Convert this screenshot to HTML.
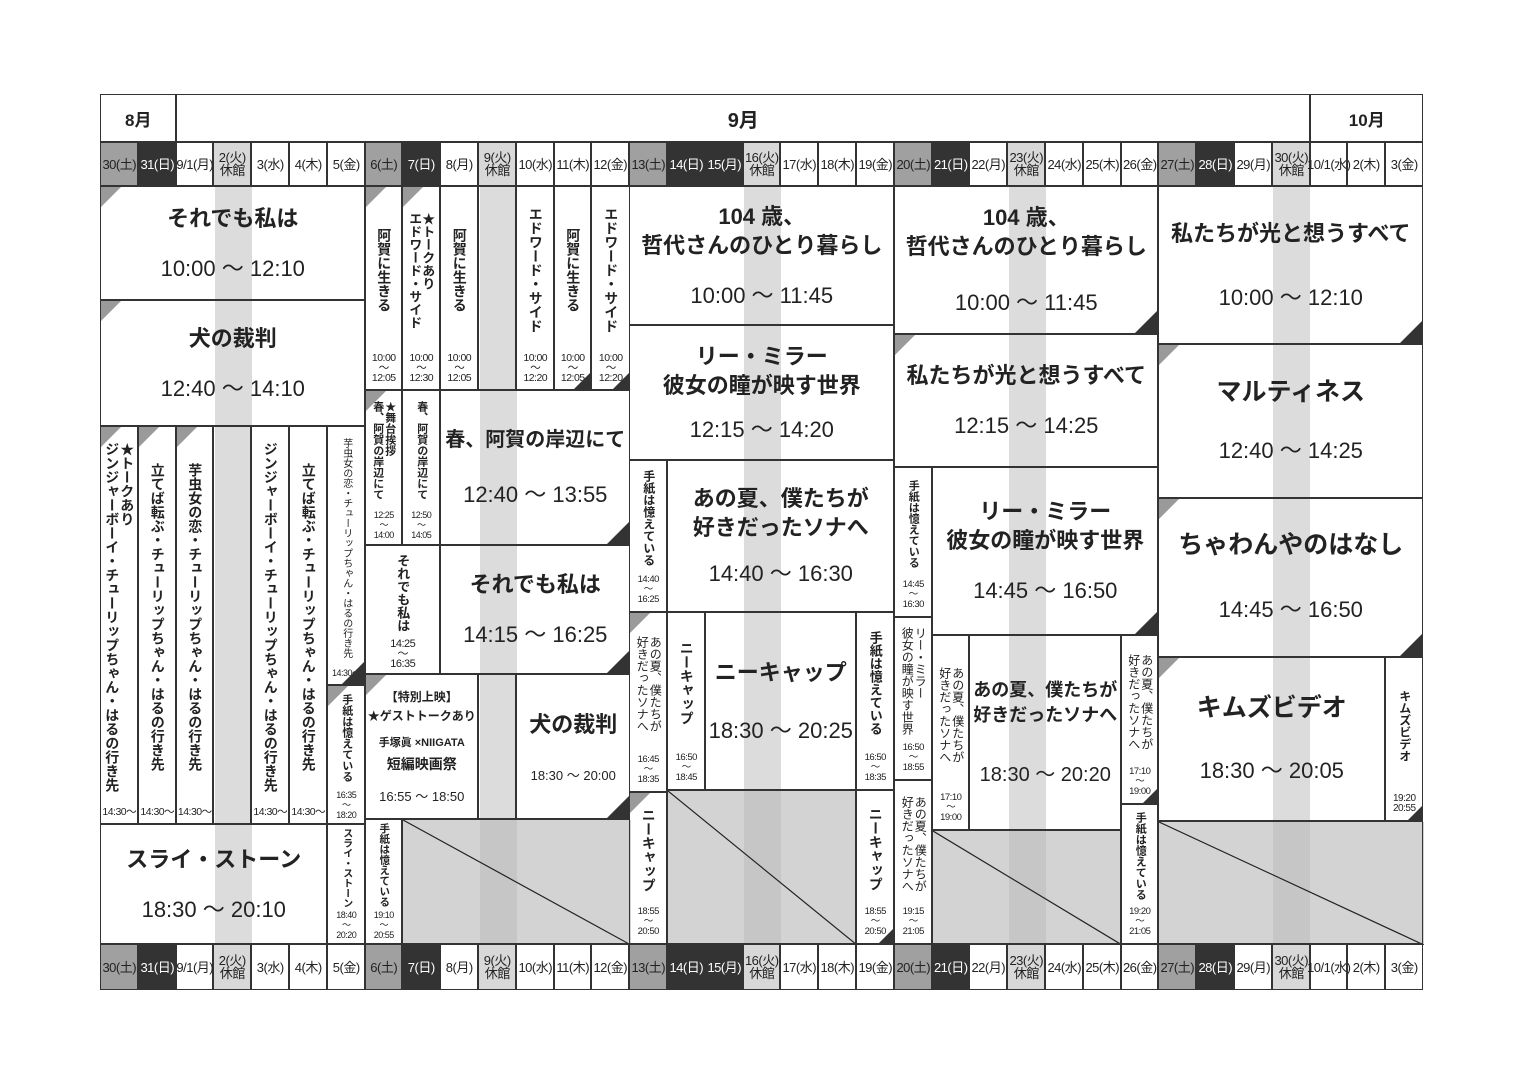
<!DOCTYPE html>
<html><head><meta charset="utf-8">
<style>
body{margin:0;width:1518px;height:1075px;background:#fff;position:relative;overflow:hidden;font-family:"Liberation Sans","Noto Sans CJK JP",sans-serif;color:#222}
.b{position:absolute;border:1.5px solid #333;box-sizing:border-box;margin-left:-0.75px;margin-top:-0.75px}
.m{display:flex;align-items:center;justify-content:center;font-size:19px;font-weight:bold}
.d{display:flex;align-items:center;justify-content:center;font-size:13px;line-height:13px;text-align:center;letter-spacing:-0.5px}
.sat{background:#a0a0a0}
.sun{background:#333;color:#fff}
.cl{background:#d8d8d8}
.big{display:flex;flex-direction:column;align-items:center;justify-content:center;text-align:center;white-space:nowrap}
.big .t{font-size:22px;font-weight:bold;line-height:29px}
.big .h{font-size:22px;margin-top:18px}
.v{display:flex;flex-direction:column;align-items:center}
.v .t{flex:1;display:flex;align-items:center;justify-content:center;writing-mode:vertical-rl;font-size:14px;font-weight:bold;line-height:15px;white-space:nowrap}
.v .h{font-size:10.5px;line-height:10px;text-align:center;padding-bottom:6px;letter-spacing:-0.5px}
.v .s{font-size:12px;line-height:13px;font-weight:normal}
.st{position:absolute;top:187px;height:758px;width:37px;background:#dcdcdc}
.hat{position:absolute;background:#d3d3d3}
.hs{position:absolute;top:0;bottom:0;width:37px;background:#c6c6c6}
.hat svg{position:absolute;left:0;top:0;width:100%;height:100%}
.tl{position:absolute;left:0;top:0;width:0;height:0;border-top:20px solid #9a9a9a;border-right:20px solid transparent}
.br{position:absolute;right:0;bottom:0;width:0;height:0;border-bottom:22px solid #333;border-left:22px solid transparent}
</style></head><body>

<!-- stripes -->
<div class="st" style="left:215px"></div>
<div class="st" style="left:480px"></div>
<div class="st" style="left:744px"></div>
<div class="st" style="left:1009px"></div>
<div class="st" style="left:1273px"></div>

<!-- hatch areas -->
<div class="hat" style="left:403px;top:820px;width:228px;height:125px"><div class="hs" style="left:77px"></div><svg viewBox="0 0 100 100" preserveAspectRatio="none"><line x1="0" y1="0" x2="100" y2="100" stroke="#222" stroke-width="1.2" vector-effect="non-scaling-stroke"/></svg></div>
<div class="hat" style="left:668px;top:791px;width:189px;height:154px"><div class="hs" style="left:76px"></div><svg viewBox="0 0 100 100" preserveAspectRatio="none"><line x1="0" y1="0" x2="100" y2="100" stroke="#222" stroke-width="1.2" vector-effect="non-scaling-stroke"/></svg></div>
<div class="hat" style="left:933px;top:831px;width:189px;height:114px"><div class="hs" style="left:76px"></div><svg viewBox="0 0 100 100" preserveAspectRatio="none"><line x1="0" y1="0" x2="100" y2="100" stroke="#222" stroke-width="1.2" vector-effect="non-scaling-stroke"/></svg></div>
<div class="hat" style="left:1159px;top:822px;width:265px;height:123px"><div class="hs" style="left:114px"></div><svg viewBox="0 0 100 100" preserveAspectRatio="none"><line x1="0" y1="0" x2="100" y2="100" stroke="#222" stroke-width="1.2" vector-effect="non-scaling-stroke"/></svg></div>

<!-- month row -->
<div class="b m" style="left:101px;top:95px;width:76px;height:48px;font-size:17px">8月</div>
<div class="b m" style="left:177px;top:95px;width:1134px;height:48px;font-size:20px">9月</div>
<div class="b m" style="left:1311px;top:95px;width:113px;height:48px;font-size:17px">10月</div>

<!-- top date row -->
<div class="b d sat" style="left:101px;top:143px;width:38px;height:44px">30(土)</div>
<div class="b d sun" style="left:139px;top:143px;width:38px;height:44px">31(日)</div>
<div class="b d" style="left:177px;top:143px;width:37px;height:44px">9/1(月)</div>
<div class="b d cl" style="left:214px;top:143px;width:38px;height:44px">2(火)<br>休館</div>
<div class="b d" style="left:252px;top:143px;width:38px;height:44px">3(水)</div>
<div class="b d" style="left:290px;top:143px;width:38px;height:44px">4(木)</div>
<div class="b d" style="left:328px;top:143px;width:38px;height:44px">5(金)</div>
<div class="b d sat" style="left:366px;top:143px;width:37px;height:44px">6(土)</div>
<div class="b d sun" style="left:403px;top:143px;width:38px;height:44px">7(日)</div>
<div class="b d" style="left:441px;top:143px;width:38px;height:44px">8(月)</div>
<div class="b d cl" style="left:479px;top:143px;width:38px;height:44px">9(火)<br>休館</div>
<div class="b d" style="left:517px;top:143px;width:38px;height:44px">10(水)</div>
<div class="b d" style="left:555px;top:143px;width:37px;height:44px">11(木)</div>
<div class="b d" style="left:592px;top:143px;width:38px;height:44px">12(金)</div>
<div class="b d sat" style="left:630px;top:143px;width:38px;height:44px">13(土)</div>
<div class="b d sun" style="left:668px;top:143px;width:38px;height:44px">14(日)</div>
<div class="b d sun" style="left:706px;top:143px;width:38px;height:44px">15(月)</div>
<div class="b d cl" style="left:744px;top:143px;width:37px;height:44px">16(火)<br>休館</div>
<div class="b d" style="left:781px;top:143px;width:38px;height:44px">17(水)</div>
<div class="b d" style="left:819px;top:143px;width:38px;height:44px">18(木)</div>
<div class="b d" style="left:857px;top:143px;width:38px;height:44px">19(金)</div>
<div class="b d sat" style="left:895px;top:143px;width:38px;height:44px">20(土)</div>
<div class="b d sun" style="left:933px;top:143px;width:37px;height:44px">21(日)</div>
<div class="b d" style="left:970px;top:143px;width:38px;height:44px">22(月)</div>
<div class="b d cl" style="left:1008px;top:143px;width:38px;height:44px">23(火)<br>休館</div>
<div class="b d" style="left:1046px;top:143px;width:38px;height:44px">24(水)</div>
<div class="b d" style="left:1084px;top:143px;width:38px;height:44px">25(木)</div>
<div class="b d" style="left:1122px;top:143px;width:37px;height:44px">26(金)</div>
<div class="b d sat" style="left:1159px;top:143px;width:38px;height:44px">27(土)</div>
<div class="b d sun" style="left:1197px;top:143px;width:38px;height:44px">28(日)</div>
<div class="b d" style="left:1235px;top:143px;width:38px;height:44px">29(月)</div>
<div class="b d cl" style="left:1273px;top:143px;width:38px;height:44px">30(火)<br>休館</div>
<div class="b d" style="left:1311px;top:143px;width:37px;height:44px">10/1(水)</div>
<div class="b d" style="left:1348px;top:143px;width:38px;height:44px">2(木)</div>
<div class="b d" style="left:1386px;top:143px;width:38px;height:44px">3(金)</div>

<!-- bottom date row -->
<div class="b d sat" style="left:101px;top:945px;width:38px;height:46px">30(土)</div>
<div class="b d sun" style="left:139px;top:945px;width:38px;height:46px">31(日)</div>
<div class="b d" style="left:177px;top:945px;width:37px;height:46px">9/1(月)</div>
<div class="b d cl" style="left:214px;top:945px;width:38px;height:46px">2(火)<br>休館</div>
<div class="b d" style="left:252px;top:945px;width:38px;height:46px">3(水)</div>
<div class="b d" style="left:290px;top:945px;width:38px;height:46px">4(木)</div>
<div class="b d" style="left:328px;top:945px;width:38px;height:46px">5(金)</div>
<div class="b d sat" style="left:366px;top:945px;width:37px;height:46px">6(土)</div>
<div class="b d sun" style="left:403px;top:945px;width:38px;height:46px">7(日)</div>
<div class="b d" style="left:441px;top:945px;width:38px;height:46px">8(月)</div>
<div class="b d cl" style="left:479px;top:945px;width:38px;height:46px">9(火)<br>休館</div>
<div class="b d" style="left:517px;top:945px;width:38px;height:46px">10(水)</div>
<div class="b d" style="left:555px;top:945px;width:37px;height:46px">11(木)</div>
<div class="b d" style="left:592px;top:945px;width:38px;height:46px">12(金)</div>
<div class="b d sat" style="left:630px;top:945px;width:38px;height:46px">13(土)</div>
<div class="b d sun" style="left:668px;top:945px;width:38px;height:46px">14(日)</div>
<div class="b d sun" style="left:706px;top:945px;width:38px;height:46px">15(月)</div>
<div class="b d cl" style="left:744px;top:945px;width:37px;height:46px">16(火)<br>休館</div>
<div class="b d" style="left:781px;top:945px;width:38px;height:46px">17(水)</div>
<div class="b d" style="left:819px;top:945px;width:38px;height:46px">18(木)</div>
<div class="b d" style="left:857px;top:945px;width:38px;height:46px">19(金)</div>
<div class="b d sat" style="left:895px;top:945px;width:38px;height:46px">20(土)</div>
<div class="b d sun" style="left:933px;top:945px;width:37px;height:46px">21(日)</div>
<div class="b d" style="left:970px;top:945px;width:38px;height:46px">22(月)</div>
<div class="b d cl" style="left:1008px;top:945px;width:38px;height:46px">23(火)<br>休館</div>
<div class="b d" style="left:1046px;top:945px;width:38px;height:46px">24(水)</div>
<div class="b d" style="left:1084px;top:945px;width:38px;height:46px">25(木)</div>
<div class="b d" style="left:1122px;top:945px;width:37px;height:46px">26(金)</div>
<div class="b d sat" style="left:1159px;top:945px;width:38px;height:46px">27(土)</div>
<div class="b d sun" style="left:1197px;top:945px;width:38px;height:46px">28(日)</div>
<div class="b d" style="left:1235px;top:945px;width:38px;height:46px">29(月)</div>
<div class="b d cl" style="left:1273px;top:945px;width:38px;height:46px">30(火)<br>休館</div>
<div class="b d" style="left:1311px;top:945px;width:37px;height:46px">10/1(水)</div>
<div class="b d" style="left:1348px;top:945px;width:38px;height:46px">2(木)</div>
<div class="b d" style="left:1386px;top:945px;width:38px;height:46px">3(金)</div>

<!-- WEEK 1 -->
<div class="b big" style="left:101px;top:187px;width:265px;height:114px"><i class="tl"></i><div class="t">それでも私は</div><div class="h">10:00 ～ 12:10</div></div>
<div class="b big" style="left:101px;top:301px;width:265px;height:126px"><i class="tl"></i><div class="t">犬の裁判</div><div class="h">12:40 ～ 14:10</div></div>
<div class="b v" style="left:101px;top:427px;width:38px;height:398px"><i class="tl"></i><div class="t">★トークあり<br>ジンジャーボーイ・チューリップちゃん・はるの行き先</div><div class="h">14:30～</div></div>
<div class="b v" style="left:139px;top:427px;width:38px;height:398px"><i class="tl"></i><div class="t">立てば転ぶ・チューリップちゃん・はるの行き先</div><div class="h">14:30～</div></div>
<div class="b v" style="left:177px;top:427px;width:37px;height:398px"><i class="tl"></i><div class="t">芋虫女の恋・チューリップちゃん・はるの行き先</div><div class="h">14:30～</div></div>
<div class="b" style="left:214px;top:427px;width:38px;height:398px"></div>
<div class="b v" style="left:252px;top:427px;width:38px;height:398px"><div class="t">ジンジャーボーイ・チューリップちゃん・はるの行き先</div><div class="h">14:30～</div></div>
<div class="b v" style="left:290px;top:427px;width:38px;height:398px"><div class="t">立てば転ぶ・チューリップちゃん・はるの行き先</div><div class="h">14:30～</div></div>
<div class="b v" style="left:328px;top:427px;width:38px;height:259px"><div class="t" style="font-size:10px;line-height:11px;font-weight:normal">芋虫女の恋・チューリップちゃん・はるの行き先</div><div class="h" style="font-size:9px">14:30～</div><i class="br"></i></div>
<div class="b v" style="left:328px;top:686px;width:38px;height:139px"><i class="tl"></i><div class="t" style="font-size:11px">手紙は憶えている</div><div class="h" style="font-size:9px;padding-bottom:3px">16:35<br>～<br>18:20</div></div>
<div class="b big" style="left:101px;top:825px;width:227px;height:120px"><div class="t">スライ・ストーン</div><div class="h">18:30 ～ 20:10</div></div>
<div class="b v" style="left:328px;top:825px;width:38px;height:120px"><div class="t" style="font-size:10px">スライ・ストーン</div><div class="h" style="font-size:9px;padding-bottom:3px">18:40<br>～<br>20:20</div></div>

<!-- WEEK 2 -->
<div class="b v" style="left:366px;top:187px;width:37px;height:204px"><i class="tl"></i><div class="t">阿賀に生きる</div><div class="h">10:00<br>～<br>12:05</div></div>
<div class="b v" style="left:403px;top:187px;width:38px;height:204px"><i class="tl"></i><div class="t" style="font-size:13px;line-height:13px">★トークあり<br>エドワード・サイド</div><div class="h">10:00<br>～<br>12:30</div></div>
<div class="b v" style="left:441px;top:187px;width:38px;height:204px"><div class="t">阿賀に生きる</div><div class="h">10:00<br>～<br>12:05</div></div>
<div class="b" style="left:479px;top:187px;width:38px;height:204px"></div>
<div class="b v" style="left:517px;top:187px;width:38px;height:204px"><div class="t">エドワード・サイド</div><div class="h">10:00<br>～<br>12:20</div></div>
<div class="b v" style="left:555px;top:187px;width:37px;height:204px"><div class="t">阿賀に生きる</div><div class="h">10:00<br>～<br>12:05</div><i class="br" style="border-bottom-width:16px;border-left-width:16px"></i></div>
<div class="b v" style="left:592px;top:187px;width:39px;height:204px"><div class="t">エドワード・サイド</div><div class="h">10:00<br>～<br>12:20</div><i class="br" style="border-bottom-width:16px;border-left-width:16px"></i></div>

<div class="b v" style="left:366px;top:391px;width:37px;height:155px"><i class="tl"></i><div class="t" style="font-size:11px;line-height:12px">★舞台挨拶<br>春、阿賀の岸辺にて</div><div class="h" style="font-size:9px;padding-bottom:4px">12:25<br>～<br>14:00</div></div>
<div class="b v" style="left:403px;top:391px;width:38px;height:155px"><div class="t" style="font-size:11px">春、阿賀の岸辺にて</div><div class="h" style="font-size:9px;padding-bottom:4px">12:50<br>～<br>14:05</div></div>
<div class="b big" style="left:441px;top:391px;width:190px;height:155px"><div class="t" style="font-size:20px">春、阿賀の岸辺にて</div><div class="h" style="margin-top:22px">12:40 ～ 13:55</div><i class="br"></i></div>

<div class="b v" style="left:366px;top:546px;width:75px;height:129px"><div class="t" style="font-size:13px">それでも私は</div><div class="h" style="font-size:11px;line-height:10px;padding-bottom:4px">14:25<br>～<br>16:35</div></div>
<div class="b big" style="left:441px;top:546px;width:190px;height:129px"><div class="t">それでも私は</div><div class="h">14:15 ～ 16:25</div><i class="br"></i></div>

<div class="b big" style="left:366px;top:675px;width:113px;height:145px"><i class="tl"></i><div style="font-size:12px;font-weight:bold;line-height:19px">【特別上映】<br>★ゲストトークあり</div><div style="font-size:11px;font-weight:bold;margin-top:8px">手塚眞 ×NIIGATA</div><div style="font-size:14px;font-weight:bold;margin-top:4px">短編映画祭</div><div style="font-size:13px;margin-top:12px">16:55 ～ 18:50</div></div>
<div class="b" style="left:479px;top:675px;width:38px;height:145px"></div>
<div class="b big" style="left:517px;top:675px;width:114px;height:145px"><div class="t">犬の裁判</div><div class="h" style="font-size:13px;margin-top:26px">18:30 ～ 20:00</div><i class="br"></i></div>

<div class="b v" style="left:366px;top:820px;width:37px;height:125px"><div class="t" style="font-size:10.5px">手紙は憶えている</div><div class="h" style="font-size:9px;padding-bottom:3px">19:10<br>～<br>20:55</div></div>
<div class="b" style="left:403px;top:820px;width:228px;height:125px"></div>

<!-- WEEK 3 -->
<div class="b big" style="left:630px;top:187px;width:265px;height:139px"><div class="t">104 歳、<br>哲代さんのひとり暮らし</div><div class="h">10:00 ～ 11:45</div></div>
<div class="b big" style="left:630px;top:326px;width:265px;height:135px"><div class="t">リー・ミラー<br>彼女の瞳が映す世界</div><div class="h" style="margin-top:12px">12:15 ～ 14:20</div></div>
<div class="b v" style="left:630px;top:461px;width:38px;height:152px"><div class="t" style="font-size:12px">手紙は憶えている</div><div class="h" style="font-size:9.5px">14:40<br>～<br>16:25</div></div>
<div class="b big" style="left:668px;top:461px;width:227px;height:152px"><div class="t">あの夏、僕たちが<br>好きだったソナへ</div><div class="h" style="margin-top:14px">14:40 ～ 16:30</div></div>
<div class="b v" style="left:630px;top:613px;width:38px;height:180px"><i class="tl"></i><div class="t s">あの夏、僕たちが<br>好きだったソナへ</div><div class="h" style="font-size:9.5px">16:45<br>～<br>18:35</div></div>
<div class="b v" style="left:668px;top:613px;width:38px;height:178px"><div class="t">ニーキャップ</div><div class="h" style="font-size:9.5px">16:50<br>～<br>18:45</div></div>
<div class="b big" style="left:706px;top:613px;width:151px;height:178px"><div class="t">ニーキャップ</div><div class="h" style="margin-top:26px">18:30 ～ 20:25</div></div>
<div class="b v" style="left:857px;top:613px;width:38px;height:178px"><div class="t" style="font-size:13px">手紙は憶えている</div><div class="h" style="font-size:9.5px">16:50<br>～<br>18:35</div></div>
<div class="b v" style="left:630px;top:793px;width:38px;height:152px"><i class="tl"></i><div class="t">ニーキャップ</div><div class="h" style="font-size:9.5px">18:55<br>～<br>20:50</div></div>
<div class="b" style="left:668px;top:791px;width:189px;height:154px"></div>
<div class="b v" style="left:857px;top:791px;width:38px;height:154px"><div class="t">ニーキャップ</div><div class="h" style="font-size:9.5px">18:55<br>～<br>20:50</div><i class="br" style="border-bottom-width:14px;border-left-width:14px"></i></div>

<!-- WEEK 4 -->
<div class="b big" style="left:895px;top:187px;width:264px;height:148px"><div class="t">104 歳、<br>哲代さんのひとり暮らし</div><div class="h" style="margin-top:24px">10:00 ～ 11:45</div><i class="br"></i></div>
<div class="b big" style="left:895px;top:335px;width:264px;height:133px"><i class="tl"></i><div class="t">私たちが光と想うすべて</div><div class="h">12:15 ～ 14:25</div></div>
<div class="b v" style="left:895px;top:468px;width:38px;height:150px"><div class="t" style="font-size:11px;line-height:12px">手紙は憶えている</div><div class="h" style="font-size:9.5px">14:45<br>～<br>16:30</div></div>
<div class="b big" style="left:933px;top:468px;width:226px;height:168px"><div class="t">リー・ミラー<br>彼女の瞳が映す世界</div><div class="h">14:45 ～ 16:50</div><i class="br"></i></div>
<div class="b v" style="left:895px;top:618px;width:38px;height:163px"><div class="t s">リー・ミラー<br>彼女の瞳が映す世界</div><div class="h" style="font-size:9.5px">16:50<br>～<br>18:55</div></div>
<div class="b v" style="left:895px;top:781px;width:38px;height:164px"><div class="t s">あの夏、僕たちが<br>好きだったソナへ</div><div class="h" style="font-size:9.5px">19:15<br>～<br>21:05</div></div>
<div class="b v" style="left:933px;top:636px;width:37px;height:195px"><div class="t s">あの夏、僕たちが<br>好きだったソナへ</div><div class="h" style="font-size:9.5px">17:10<br>～<br>19:00</div></div>
<div class="b big" style="left:970px;top:636px;width:152px;height:195px"><div class="t" style="font-size:18px;line-height:25px">あの夏、僕たちが<br>好きだったソナへ</div><div class="h" style="font-size:20px;margin-top:30px">18:30 ～ 20:20</div></div>
<div class="b v" style="left:1122px;top:636px;width:37px;height:169px"><div class="t s">あの夏、僕たちが<br>好きだったソナへ</div><div class="h" style="font-size:9.5px">17:10<br>～<br>19:00</div><i class="br" style="border-bottom-width:14px;border-left-width:14px"></i></div>
<div class="b" style="left:933px;top:831px;width:189px;height:114px"></div>
<div class="b v" style="left:1122px;top:805px;width:37px;height:140px"><div class="t" style="font-size:11px">手紙は憶えている</div><div class="h" style="font-size:9.5px">19:20<br>～<br>21:05</div></div>

<!-- WEEK 5 -->
<div class="b big" style="left:1159px;top:187px;width:265px;height:158px"><div class="t">私たちが光と想うすべて</div><div class="h" style="margin-top:32px">10:00 ～ 12:10</div><i class="br"></i></div>
<div class="b big" style="left:1159px;top:345px;width:265px;height:154px"><i class="tl"></i><div class="t" style="font-size:25px">マルティネス</div><div class="h" style="margin-top:26px">12:40 ～ 14:25</div></div>
<div class="b big" style="left:1159px;top:499px;width:265px;height:159px"><i class="tl"></i><div class="t" style="font-size:25px">ちゃわんやのはなし</div><div class="h" style="margin-top:32px">14:45 ～ 16:50</div><i class="br"></i></div>
<div class="b big" style="left:1159px;top:658px;width:227px;height:164px"><i class="tl"></i><div class="t" style="font-size:25px">キムズビデオ</div><div class="h" style="margin-top:30px">18:30 ～ 20:05</div></div>
<div class="b v" style="left:1386px;top:658px;width:38px;height:164px"><div class="t" style="font-size:12px">キムズビデオ</div><div class="h" style="font-size:10px">19:20<br>20:55</div><i class="br" style="border-bottom-width:14px;border-left-width:14px"></i></div>
<div class="b" style="left:1159px;top:822px;width:265px;height:123px"></div>

</body></html>
